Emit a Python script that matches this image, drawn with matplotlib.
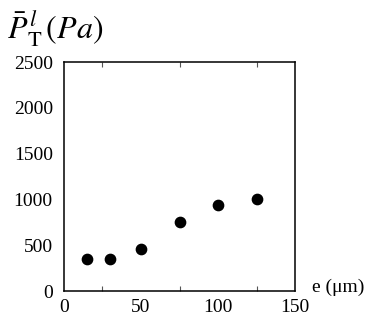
import numpy as np
import matplotlib
matplotlib.use("Agg")
import matplotlib.pyplot as plt

# data
e_um = [15, 30, 50, 75, 100, 125]
pressure = [345, 345, 460, 755, 940, 1000]

x_labels = [0, 50, 100, 150]
y_labels = [0, 500, 1000, 1500, 2000, 2500]
x_marks = [25, 75, 100, 125]
y_marks = [1000]

plt.rcParams['font.family'] = ['Liberation Serif', 'DejaVu Serif']
plt.rcParams['mathtext.fontset'] = 'stix'

fig = plt.figure(figsize=(3.74, 3.27), dpi=100)
ax = fig.add_axes([0.171, 0.110, 0.618, 0.700])

ax.scatter(e_um, pressure, s=55, color='black', zorder=3, clip_on=False)

ax.set_xlim(0, 150)
ax.set_ylim(0, 2500)

ax.set_xticks(x_labels)
ax.set_yticks(y_labels)
ax.set_xticks(x_marks, minor=True)
ax.set_yticks(y_marks, minor=True)
ax.tick_params(axis='both', which='major', length=0, labelsize=14)
ax.tick_params(axis='x', which='major', pad=6)
ax.tick_params(axis='y', which='major', pad=8)
ax.tick_params(axis='x', which='minor', direction='in', length=3.6,
               width=0.8, top=True, bottom=True, color='#555555')
ax.tick_params(axis='y', which='minor', direction='in', length=7,
               width=0.8, left=True, right=True, color='#555555')

for sp in ax.spines.values():
    sp.set_linewidth(1.1)

fig.text(0.018, 0.91, r'$\bar{P}^{\,l}_{\mathrm{T}}\,(Pa)$', fontsize=23,
         va='center', ha='left')
fig.text(0.833, 0.122, 'e (μm)', fontsize=14, va='center', ha='left')

fig.savefig('out.png', dpi=100)
